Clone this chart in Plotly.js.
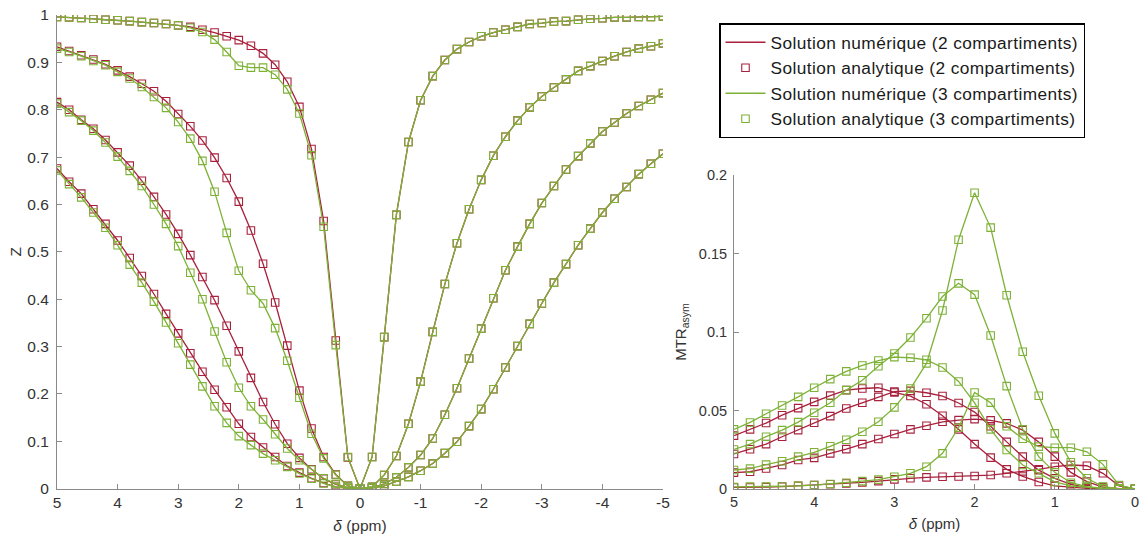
<!DOCTYPE html>
<html>
<head>
<meta charset="utf-8">
<script src="https://cdn.plot.ly/plotly-3.0.1.min.js"></script>
<style>
  html, body { margin: 0; padding: 0; background: #ffffff; }
  #chart { width: 1139px; height: 535px; }
  .legendtext { letter-spacing: 0.4px; }
</style>
</head>
<body>
<div id="chart"></div>
<script>
// ---- Frequency offsets (ppm) ----
const DELTA_POS = [5, 4.8, 4.6, 4.4, 4.2, 4, 3.8, 3.6, 3.4, 3.2, 3, 2.8, 2.6, 2.4, 2.2, 2, 1.8, 1.6, 1.4, 1.2, 1, 0.8, 0.6, 0.4, 0.2, 0];
const DELTA_NEG = [-0.2, -0.4, -0.6, -0.8, -1, -1.2, -1.4, -1.6, -1.8, -2, -2.2, -2.4, -2.6, -2.8, -3, -3.2, -3.4, -3.6, -3.8, -4, -4.2, -4.4, -4.6, -4.8, -5];

// ---- Z spectra, positive side (delta = 5 ... 0) ----
// 2 compartments (red)
const Z_RED_A_POS = [0.996, 0.995, 0.994, 0.992, 0.990, 0.989, 0.987, 0.985, 0.983, 0.981, 0.978, 0.975, 0.969, 0.963, 0.955, 0.947, 0.935, 0.919, 0.895, 0.859, 0.806, 0.717, 0.565, 0.313, 0.066, 0];
const Z_RED_B_POS = [0.933, 0.924, 0.915, 0.906, 0.896, 0.883, 0.870, 0.855, 0.839, 0.818, 0.791, 0.765, 0.735, 0.699, 0.656, 0.606, 0.545, 0.475, 0.393, 0.302, 0.207, 0.127, 0.067, 0.030, 0.006, 0];
const Z_RED_C_POS = [0.816, 0.800, 0.779, 0.760, 0.736, 0.710, 0.682, 0.650, 0.616, 0.579, 0.538, 0.493, 0.447, 0.398, 0.344, 0.290, 0.234, 0.183, 0.136, 0.095, 0.065, 0.041, 0.021, 0.009, 0.002, 0];
const Z_RED_D_POS = [0.676, 0.648, 0.623, 0.590, 0.559, 0.524, 0.487, 0.449, 0.411, 0.369, 0.328, 0.286, 0.247, 0.209, 0.172, 0.137, 0.109, 0.087, 0.067, 0.048, 0.034, 0.022, 0.012, 0.004, 0.001, 0];
// 3 compartments (green)
const Z_GREEN_A_POS = [0.996, 0.995, 0.994, 0.992, 0.990, 0.989, 0.987, 0.985, 0.983, 0.981, 0.978, 0.973, 0.964, 0.948, 0.922, 0.893, 0.889, 0.889, 0.874, 0.843, 0.792, 0.704, 0.553, 0.303, 0.067, 0];
const Z_GREEN_B_POS = [0.929, 0.922, 0.913, 0.903, 0.894, 0.880, 0.866, 0.848, 0.827, 0.804, 0.774, 0.739, 0.692, 0.627, 0.540, 0.460, 0.419, 0.391, 0.339, 0.270, 0.192, 0.116, 0.064, 0.029, 0.006, 0];
const Z_GREEN_C_POS = [0.813, 0.795, 0.777, 0.756, 0.731, 0.701, 0.671, 0.639, 0.600, 0.559, 0.512, 0.456, 0.400, 0.332, 0.267, 0.213, 0.174, 0.146, 0.115, 0.085, 0.060, 0.040, 0.022, 0.010, 0.002, 0];
const Z_GREEN_D_POS = [0.672, 0.643, 0.615, 0.583, 0.551, 0.514, 0.473, 0.435, 0.395, 0.351, 0.307, 0.262, 0.216, 0.174, 0.139, 0.111, 0.092, 0.074, 0.060, 0.046, 0.032, 0.021, 0.011, 0.004, 0.001, 0];

// ---- Z spectra, negative side (delta = -0.2 ... -5), identical for both models ----
const Z_A_NEG = [0.067, 0.320, 0.578, 0.732, 0.820, 0.871, 0.905, 0.928, 0.943, 0.955, 0.963, 0.969, 0.975, 0.981, 0.983, 0.986, 0.987, 0.990, 0.992, 0.993, 0.995, 0.995, 0.996, 0.996, 0.997];
const Z_B_NEG = [0.004, 0.029, 0.069, 0.137, 0.226, 0.331, 0.432, 0.518, 0.590, 0.652, 0.703, 0.743, 0.777, 0.805, 0.828, 0.847, 0.864, 0.882, 0.892, 0.903, 0.913, 0.922, 0.929, 0.934, 0.940];
const Z_C_NEG = [0.002, 0.010, 0.024, 0.045, 0.071, 0.106, 0.156, 0.212, 0.275, 0.338, 0.402, 0.461, 0.511, 0.559, 0.603, 0.639, 0.674, 0.702, 0.729, 0.754, 0.773, 0.792, 0.808, 0.821, 0.835];
const Z_D_NEG = [0.0015, 0.006, 0.015, 0.025, 0.038, 0.053, 0.075, 0.099, 0.132, 0.168, 0.210, 0.256, 0.301, 0.348, 0.391, 0.435, 0.474, 0.514, 0.549, 0.583, 0.612, 0.637, 0.664, 0.686, 0.707];

// ---- MTR asymmetry (delta = 5 ... 0) ----
const MTR_RED_A = [0.001, 0.001, 0.0012, 0.0015, 0.002, 0.0025, 0.003, 0.0035, 0.0042, 0.005, 0.0061, 0.0068, 0.0074, 0.0078, 0.0080, 0.0083, 0.0089, 0.0100, 0.0112, 0.0125, 0.0142, 0.0153, 0.0148, 0.0100, 0.002, 0];
const MTR_RED_B = [0.0104, 0.011, 0.0131, 0.0153, 0.0185, 0.0198, 0.0227, 0.0254, 0.0286, 0.0318, 0.035, 0.038, 0.0403, 0.0428, 0.0439, 0.0445, 0.0437, 0.0418, 0.0375, 0.030, 0.0206, 0.0106, 0.0047, 0.0012, 0.0002, 0];
const MTR_RED_C = [0.0223, 0.0253, 0.0286, 0.0333, 0.0375, 0.0422, 0.0464, 0.0513, 0.0549, 0.0587, 0.062, 0.0625, 0.0613, 0.0592, 0.0548, 0.049, 0.040, 0.030, 0.0206, 0.012, 0.0068, 0.003, 0.001, 0.0003, 0, 0];
const MTR_RED_D = [0.034, 0.038, 0.042, 0.047, 0.0515, 0.0555, 0.0595, 0.063, 0.064, 0.0645, 0.0615, 0.0592, 0.054, 0.0467, 0.038, 0.0286, 0.020, 0.0125, 0.008, 0.0045, 0.002, 0.001, 0.0004, 0.0001, 0, 0];
const MTR_GREEN_A = [0.0013, 0.0015, 0.0015, 0.0016, 0.002, 0.0025, 0.0032, 0.004, 0.005, 0.006, 0.0078, 0.010, 0.0142, 0.0227, 0.0390, 0.0615, 0.055, 0.040, 0.032, 0.027, 0.0263, 0.0263, 0.0237, 0.0157, 0.0025, 0];
const MTR_GREEN_B = [0.0121, 0.013, 0.0155, 0.0177, 0.0206, 0.0234, 0.0272, 0.0314, 0.0365, 0.0428, 0.052, 0.064, 0.080, 0.1137, 0.1588, 0.1887, 0.1665, 0.1234, 0.0874, 0.0594, 0.0354, 0.017, 0.0068, 0.0015, 0.0003, 0];
const MTR_GREEN_C = [0.0252, 0.0286, 0.0333, 0.0375, 0.0426, 0.0486, 0.0549, 0.063, 0.0693, 0.0782, 0.0863, 0.0965, 0.1088, 0.1226, 0.1310, 0.1238, 0.0978, 0.0655, 0.038, 0.0206, 0.0106, 0.004, 0.0015, 0.0005, 0, 0];
const MTR_GREEN_D = [0.038, 0.0424, 0.0479, 0.0532, 0.0587, 0.0645, 0.070, 0.0749, 0.0787, 0.0818, 0.084, 0.0836, 0.0823, 0.0774, 0.0685, 0.0549, 0.038, 0.0248, 0.0153, 0.010, 0.0045, 0.002, 0.001, 0.0003, 0, 0];

// ---- Tick labels ----
const X_TICKS_LEFT = [5, 4, 3, 2, 1, 0, -1, -2, -3, -4, -5];
const X_LABELS_LEFT = ["5", "4", "3", "2", "1", "0", "-1", "-2", "-3", "-4", "-5"];
const Y_TICKS_LEFT = [0, 0.1, 0.2, 0.3, 0.4, 0.5, 0.6, 0.7, 0.8, 0.9, 1];
const Y_LABELS_LEFT = ["0", "0.1", "0.2", "0.3", "0.4", "0.5", "0.6", "0.7", "0.8", "0.9", "1"];
const X_TICKS_RIGHT = [5, 4, 3, 2, 1, 0];
const X_LABELS_RIGHT = ["5", "4", "3", "2", "1", "0"];
const Y_TICKS_RIGHT = [0, 0.05, 0.1, 0.15, 0.2];
const Y_LABELS_RIGHT = ["0", "0.05", "0.1", "0.15", "0.2"];

const LEGEND_NAMES = [
  "Solution numérique (2 compartiments)",
  "Solution analytique (2 compartiments)",
  "Solution numérique (3 compartiments)",
  "Solution analytique (3 compartiments)"
];

// ---- Styles ----
const RED = "#a8203c";
const GREEN = "#7db236";
const LINE_W = 1.3;
const MK_SIZE = 7.5;

const X_FULL = DELTA_POS.concat(DELTA_NEG);
const zRed = [
  Z_RED_A_POS.concat(Z_A_NEG), Z_RED_B_POS.concat(Z_B_NEG),
  Z_RED_C_POS.concat(Z_C_NEG), Z_RED_D_POS.concat(Z_D_NEG)
];
const zGreen = [
  Z_GREEN_A_POS.concat(Z_A_NEG), Z_GREEN_B_POS.concat(Z_B_NEG),
  Z_GREEN_C_POS.concat(Z_C_NEG), Z_GREEN_D_POS.concat(Z_D_NEG)
];
const mRed = [MTR_RED_A, MTR_RED_B, MTR_RED_C, MTR_RED_D];
const mGreen = [MTR_GREEN_A, MTR_GREEN_B, MTR_GREEN_C, MTR_GREEN_D];

const traces = [];
function addSet(xs, ysList, color, xa, ya, lineIdx, markIdx, showLeg) {
  ysList.forEach((ys, i) => {
    traces.push({
      x: xs, y: ys, xaxis: xa, yaxis: ya, type: "scatter", mode: "lines",
      line: { color: color, width: LINE_W },
      name: LEGEND_NAMES[lineIdx], legendgroup: "g" + lineIdx, legendrank: lineIdx + 1,
      showlegend: showLeg && i === 0, hoverinfo: "skip"
    });
  });
  ysList.forEach((ys, i) => {
    traces.push({
      x: xs, y: ys, xaxis: xa, yaxis: ya, type: "scatter", mode: "markers",
      marker: { symbol: "square-open", size: MK_SIZE, color: color, line: { width: 1.1, color: color } },
      name: LEGEND_NAMES[markIdx], legendgroup: "g" + markIdx, legendrank: markIdx + 1,
      showlegend: showLeg && i === 0, hoverinfo: "skip"
    });
  });
}
addSet(X_FULL, zRed, RED, "x", "y", 0, 1, true);
addSet(X_FULL, zGreen, GREEN, "x", "y", 2, 3, true);
addSet(DELTA_POS, mRed, RED, "x2", "y2", 0, 1, false);
addSet(DELTA_POS, mGreen, GREEN, "x2", "y2", 2, 3, false);

const W = 1139, H = 535;
const AX_COLOR = "#8a8a8a";
const TXT = "#333333";
const FONT = "Liberation Sans, Arial, sans-serif";
function axBase(fs) {
  return {
    showline: true, linecolor: AX_COLOR, linewidth: 1,
    ticks: "inside", ticklen: 5, tickcolor: AX_COLOR, tickwidth: 1,
    showgrid: false, zeroline: false, mirror: false,
    ticklabeloverflow: "allow",
    tickfont: { family: FONT, size: fs, color: TXT }
  };
}

const layout = {
  width: W, height: H,
  margin: { l: 0, r: 0, t: 0, b: 0 },
  paper_bgcolor: "#ffffff", plot_bgcolor: "#ffffff",
  font: { family: FONT, color: TXT },
  showlegend: true,
  legend: {
    x: 719 / W, y: 1 - 23 / H, xanchor: "left", yanchor: "top",
    bordercolor: "#000000", borderwidth: 1.5, bgcolor: "#ffffff",
    font: { family: FONT, size: 17.3, color: "#1a1a1a" },
    tracegroupgap: 0, itemwidth: 40, traceorder: "normal"
  },
  xaxis: Object.assign(axBase(15.5), {
    domain: [57 / W, 663 / W], range: [5, -5], anchor: "y",
    tickvals: X_TICKS_LEFT, ticktext: X_LABELS_LEFT,
    title: { text: "<i>δ</i> (ppm)", font: { family: FONT, size: 15.5, color: TXT }, standoff: 9 }
  }),
  yaxis: Object.assign(axBase(15.5), {
    domain: [(H - 488.7) / H, (H - 15) / H], range: [0, 1], anchor: "x",
    tickvals: Y_TICKS_LEFT, ticktext: Y_LABELS_LEFT, ticklabelstandoff: 4,
    title: { text: "Z", font: { family: FONT, size: 15.5, color: TXT }, standoff: 1 }
  }),
  xaxis2: Object.assign(axBase(14.5), {
    domain: [734 / W, 1135 / W], range: [5, 0], anchor: "y2",
    tickvals: X_TICKS_RIGHT, ticktext: X_LABELS_RIGHT,
    title: { text: "<i>δ</i> (ppm)", font: { family: FONT, size: 15, color: TXT }, standoff: 9 }
  }),
  yaxis2: Object.assign(axBase(14.5), {
    domain: [(H - 489) / H, (H - 175) / H], range: [0, 0.2], anchor: "x2",
    tickvals: Y_TICKS_RIGHT, ticktext: Y_LABELS_RIGHT, ticklabelstandoff: 3,
    title: { text: "MTR<sub>asym</sub>", font: { family: FONT, size: 15, color: TXT }, standoff: 8 }
  })
};

Plotly.newPlot("chart", traces, layout, { displayModeBar: false, staticPlot: true });
</script>
</body>
</html>
